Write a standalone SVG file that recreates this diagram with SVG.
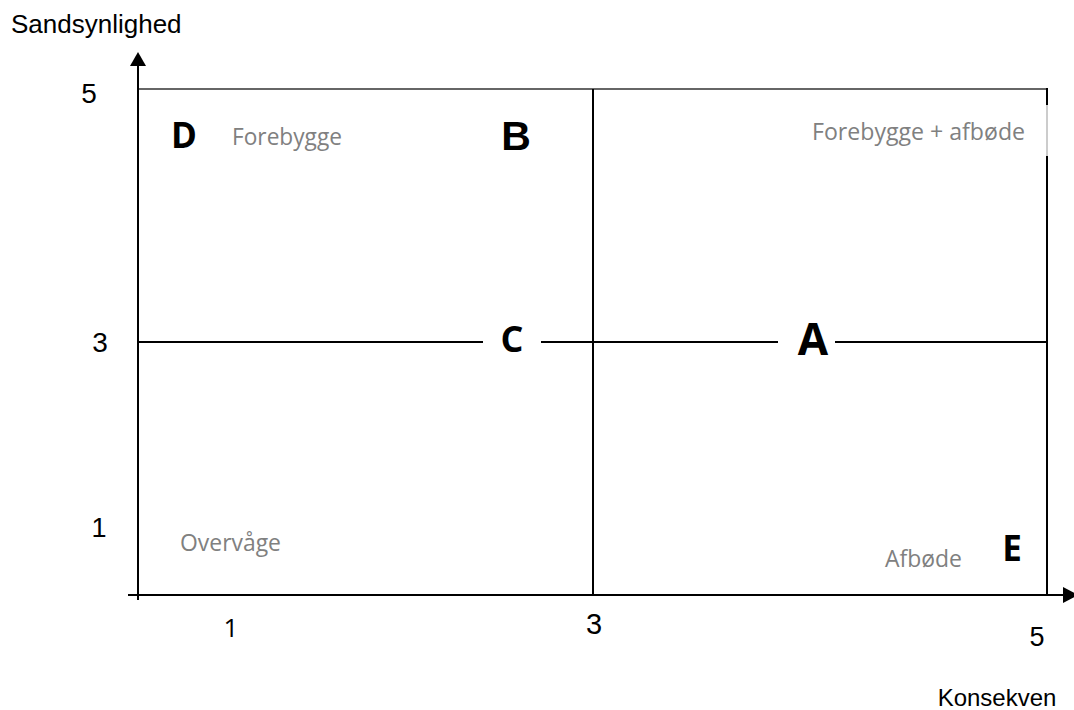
<svg xmlns="http://www.w3.org/2000/svg" width="1074" height="710" viewBox="0 0 1074 710">
<style>
.ax{stroke:#000;stroke-width:2;fill:none}
.ln{stroke:#000;stroke-width:2;fill:none}
.lab{font-family:"Liberation Sans",Arial,sans-serif;fill:#000}
.num{font-family:"Open Sans","Liberation Sans",sans-serif;fill:#000}
.big{font-family:"Open Sans","Liberation Sans",sans-serif;font-weight:bold;fill:#000}
.zone{font-family:"Open Sans","Liberation Sans",sans-serif;fill:#808080;font-size:23px}
</style>
<rect width="1074" height="710" fill="#fff"/>
<g id="connectors">
<path d="M138,89 H1047" stroke="#333" stroke-width="1.6" fill="none"/>
<path class="ln" d="M1047,88 V105"/>
<path d="M1047,105 V156" stroke="#999" stroke-width="1" fill="none"/>
<path class="ln" d="M1047,156 V595"/>
<path class="ln" d="M593,89 V595"/>
<path class="ln" d="M138,342 H483"/>
<path class="ln" d="M541,342 H778"/>
<path class="ln" d="M835,342 H1047"/>
<path class="ax" d="M138,600 V64"/>
<path d="M130,66 L138,52 L146,66 Z" fill="#000"/>
<path class="ax" d="M128,595 H1064"/>
<path d="M1063,587 L1078,595 L1063,603 Z" fill="#000"/>
</g>
<g id="axis-labels">
<text class="lab" x="11" y="33" font-size="26">Sandsynlighed</text>
<text class="lab" x="89" y="103" font-size="28" text-anchor="middle">5</text>
<text class="lab" x="100" y="352" font-size="28" text-anchor="middle">3</text>
<text class="lab" x="99" y="537" font-size="27" text-anchor="middle">1</text>
<text class="num" x="231" y="637" font-size="26" text-anchor="middle">1</text>
<text class="lab" x="594" y="634" font-size="29" text-anchor="middle">3</text>
<text class="lab" x="1037" y="646" font-size="27" text-anchor="middle">5</text>
<text class="lab" x="997" y="706" font-size="24" text-anchor="middle">Konsekven</text>
</g>
<g id="node-D"><text class="big" x="184" y="148" font-size="35" text-anchor="middle">D</text></g>
<g id="node-B"><text class="lab" x="516" y="150" font-size="41" font-weight="bold" text-anchor="middle">B</text></g>
<g id="node-C"><text class="big" x="512" y="352" font-size="36" text-anchor="middle">C</text></g>
<g id="node-A"><text class="big" x="813" y="355" font-size="44" text-anchor="middle">A</text></g>
<g id="node-E"><text class="big" x="1012" y="561" font-size="35" text-anchor="middle">E</text></g>
<g id="zone-forebygge"><text class="zone" x="232" y="145" textLength="110" lengthAdjust="spacingAndGlyphs">Forebygge</text></g>
<g id="zone-forebygge-afbode"><text class="zone" x="812" y="140" textLength="213" lengthAdjust="spacingAndGlyphs">Forebygge + afbøde</text></g>
<g id="zone-overvage"><text class="zone" x="180" y="551" textLength="101" lengthAdjust="spacingAndGlyphs">Overvåge</text></g>
<g id="zone-afbode"><text class="zone" x="885" y="567" textLength="77" lengthAdjust="spacingAndGlyphs">Afbøde</text></g>
</svg>
